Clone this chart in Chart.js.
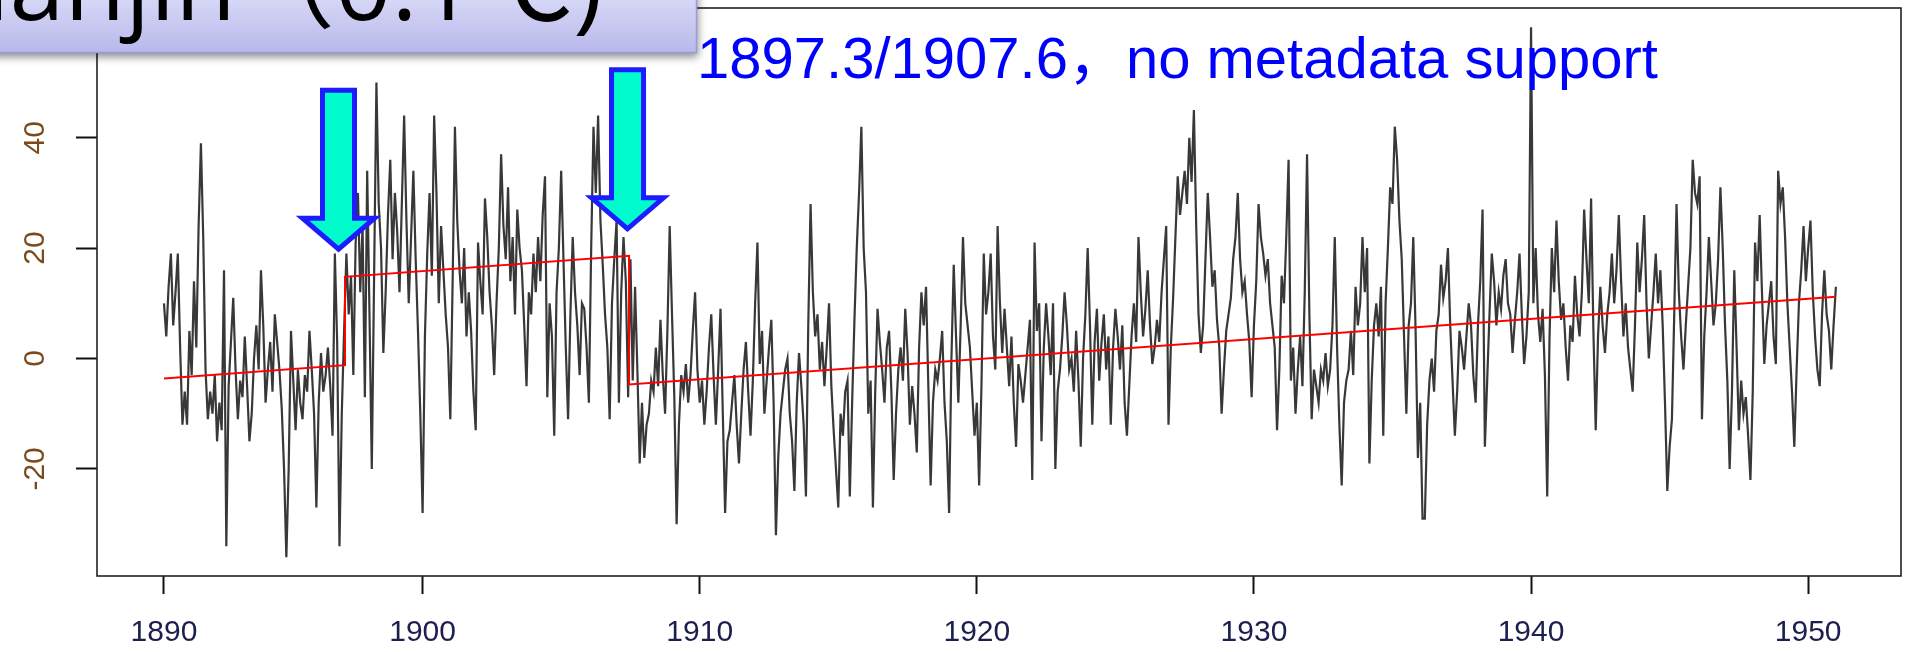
<!DOCTYPE html>
<html>
<head>
<meta charset="utf-8">
<script src="https://cdn.jsdelivr.net/npm/chart.js@4.4.1/dist/chart.umd.min.js"></script>
<style>
  html, body { margin: 0; padding: 0; background: #fff; }
  #wrap { width: 1905px; height: 652px; }
</style>
</head>
<body>
<div id="wrap"><canvas id="chart" width="1905" height="652"></canvas></div>
<script>
// monthly series, first value = Sep 1890 (0.1 C units), one row per 12 months
const startYear = 1890 + 8 / 12;
const monthlyValues = [
  10, 4, 13, 19, 6, 12, 19, 2, -12, -6, -12, 5,
  -3, 14, 2, 24, 39, 22, -2, -11, -6, -10, -3, -15,
  -8, -13, 16, -34, -5, 3, 11, -2, -11, -4, -7, 4,
  -5, -15, -10, 0, 6, -2, 16, 6, -8, -2, 3, -6,
  8, 3, -2, -9, -20, -36, -20, 5, -4, -13, -2, -8,
  -11, -3, -6, 5, -2, -10, -27, -8, 1, -6, -3, 2,
  -5, -14, 19, 3, -34, -10, 5, 19, 8, 15, -3, 21,
  30, 12, 24, -7, 34, 8, -20, 15, 50, 28, 20, 1,
  12, 26, 36, 18, 30, 23, 12, 28, 44, 25, 10, 22,
  34, 18, 5, -10, -28, 4, 19, 30, 15, 44, 30, 10,
  24, 16, 8, 2, -11, 14, 42, 25, 16, 10, 20, 4,
  12, 5, -6, -13, 21, 14, 8, 29, 22, 12, 6, -3,
  10, 20, 37, 24, 18, 31, 14, 22, 8, 27, 20, 16,
  6, -5, 12, 8, 19, 12, 22, 14, 26, 33, -7, 10,
  4, -14, 12, 20, 34, 18, 2, -11, 8, 22, 12, 6,
  -3, 10, 9, 2, -8, 20, 42, 30, 44, 25, 17, 8,
  2, -11, 10, 18, 25, -8, 12, 22, 14, -7, 18, -4,
  13, -2, -19, -8, -18, -12, -10, -4, -6, 2, -5, 7,
  -3, -10, 5, 24, 8, -7, -30, -12, -3, -6, -1, -8,
  -3, 5, 12, -2, -8, -4, -12, -6, 2, 8, -3, -12,
  -2, 9, -10, -28, -15, -13, -8, -3, -12, -19, -10, -2,
  3, -6, -14, -4, 10, 21, -1, 5, -10, -4, 2, 7,
  -8, -32, -18, -10, -6, -2, 0, -10, -15, -24, -8, 1,
  -5, -12, -25, 6, 28, 12, 4, 8, -2, 3, -5, 2,
  10, -5, -13, -20, -27, -10, -14, -6, -4, -25, -8, 7,
  20, 30, 42, 20, 12, -10, -4, -27, -6, 9, 3, -2,
  -8, 2, 5, -6, -22, -10, -2, 2, -4, 9, 1, -12,
  -5, -10, -17, 2, 12, 6, 13, -5, -23, -8, -2, -4,
  0, 5, -8, -15, -28, 0, 17, 4, -8, 6, 22, 10,
  6, 2, -6, -14, -8, -23, -5, 19, 8, 12, 19, 4,
  -2, 24, 10, 1, 9, 2, -5, 4, -8, -16, -1, -4,
  -8, -3, 2, 7, -22, 21, 5, 10, -15, 2, 10, 4,
  -3, 10, -20, -6, -2, 4, 12, 6, -2, 0, -6, 5,
  -4, -16, 0, 8, 20, 6, -12, 3, 9, -4, 3, 8,
  -2, 4, -12, 2, 9, 4, -2, 6, -8, -14, -5, 4,
  10, 3, 22, 12, 4, 9, 16, 6, -1, 2, 7, 3,
  12, 18, 24, -12, 2, 11, 22, 33, 26, 30, 34, 28,
  40, 32, 45, 24, 8, 1, 6, 18, 30, 22, 13, 16,
  7, 2, -10, -2, 5, 8, 11, 18, 22, 30, 18, 12,
  14, 8, 3, -7, 6, 14, 28, 22, 19, 15, 18, 10,
  6, 2, -13, -2, 15, 10, 22, 36, -4, 2, -10, -2,
  4, -5, 12, 37, 8, -11, -2, -5, -8, -2, -4, 1,
  -5, -2, 6, 22, 2, -12, -23, -8, -4, -2, 5, -3,
  13, 6, 10, 22, 12, 20, -19, -4, 6, 10, 4, 13,
  -14, 10, 20, 31, 28, 42, 36, 25, 18, 4, -10, 6,
  10, 22, 5, -18, -8, -29, -29, -12, -4, 0, -6, 5,
  8, 17, 11, 14, 20, 6, -4, -14, -6, 5, 2, -2,
  4, 10, 6, -3, -8, 6, 14, 27, -16, -4, 8, 19,
  14, 6, 12, 9, 15, 18, 10, 8, 1, 7, 12, 19,
  8, -1, 4, 12, 60, 10, 20, 8, 3, 9, -3, -25,
  4, 20, 12, 25, 14, 7, 10, 2, -4, 6, 3, 15,
  8, 4, 12, 27, 18, 10, 29, 5, -13, 4, 13, 6,
  1, 8, 12, 19, 10, 16, 26, 14, 4, 10, 2, -2,
  -6, 6, 21, 12, 18, 26, 10, 0, 6, 12, 19, 10,
  16, 6, -8, -24, -16, -11, 8, 28, 12, 4, -2, 6,
  13, 20, 36, 30, 28, 33, -11, 4, 12, 22, 14, 6,
  10, 18, 31, 20, 6, -4, -20, -6, 16, 2, -13, -4,
  -10, -7, -14, -22, -6, 21, 14, 26, 12, -1, 6, 10,
  14, 4, -1, 34, 28, 31, 22, 10, 2, -6, -16, -2,
  10, 16, 24, 14, 20, 25, 12, 4, -2, -5, 8, 16,
  8, 5, -2, 6, 13
];

// fitted step trend (red), breakpoints
const trendYears = [1890.667, 1897.2, 1897.2, 1907.45, 1907.45, 1951.0];
const trendValues = [-3.6, -1.2, 14.8, 18.6, -4.7, 11.2];

const yTicks = [-20, 0, 20, 40, 60];
const xTickValues = [1890.667, 1900, 1910, 1920, 1930, 1940, 1950];
const xTickLabels = ["1890", "1900", "1910", "1920", "1930", "1940", "1950"];

// arrows mark the two breakpoints
const arrowYears = [1896.965, 1907.395];
const arrowValues = [19.8, 23.5];

const titleText = "Tianjin（0.1℃)";
const noteText = "1897.3/1907.6，no metadata support";

const seriesPoints = monthlyValues.map((v, i) => ({ x: startYear + i / 12, y: v }));
const trendPoints = trendYears.map((t, i) => ({ x: t, y: trendValues[i] }));

function drawArrow(ctx, tx, ty) {
  const shaft = 16, head = 36, headLen = 31, len = 159;
  ctx.beginPath();
  ctx.moveTo(tx, ty);
  ctx.lineTo(tx - head, ty - headLen);
  ctx.lineTo(tx - shaft, ty - headLen);
  ctx.lineTo(tx - shaft, ty - len);
  ctx.lineTo(tx + shaft, ty - len);
  ctx.lineTo(tx + shaft, ty - headLen);
  ctx.lineTo(tx + head, ty - headLen);
  ctx.closePath();
  ctx.fillStyle = "#00fccc";
  ctx.fill();
  ctx.lineJoin = "miter";
  ctx.lineWidth = 5;
  ctx.strokeStyle = "#1c1cff";
  ctx.stroke();
}

const annotations = {
  id: "annotations",
  afterDatasetsDraw(chart) {
    const { ctx, chartArea: a, scales: { x, y } } = chart;
    ctx.save();

    // plot frame
    ctx.strokeStyle = "#222";
    ctx.lineWidth = 1.6;
    ctx.strokeRect(a.left, a.top, a.right - a.left, a.bottom - a.top);

    // rotated y tick labels (R style)
    ctx.fillStyle = "#7a4a1c";
    ctx.font = '30px "Liberation Sans", Arial, sans-serif';
    ctx.textAlign = "center";
    ctx.textBaseline = "middle";
    yTicks.forEach(v => {
      ctx.save();
      ctx.translate(36, y.getPixelForValue(v));
      ctx.rotate(-Math.PI / 2);
      ctx.fillText(String(v), 0, 0);
      ctx.restore();
    });

    // arrows
    arrowYears.forEach((t, i) => {
      drawArrow(ctx, x.getPixelForValue(t), y.getPixelForValue(arrowValues[i]));
    });

    // blue note
    ctx.fillStyle = "#0000ff";
    ctx.font = '58px "Liberation Sans", Arial, "Noto Sans CJK SC", sans-serif';
    ctx.textAlign = "left";
    ctx.textBaseline = "alphabetic";
    ctx.fillText(noteText, 697, 78);

    // title banner, partly cut off at the top-left
    ctx.save();
    ctx.shadowColor = "rgba(0,0,0,0.45)";
    ctx.shadowBlur = 8;
    ctx.shadowOffsetY = 4;
    ctx.shadowOffsetX = 1;
    const g = ctx.createLinearGradient(0, 0, 0, 53);
    g.addColorStop(0, "#d6d6f6");
    g.addColorStop(1, "#b8b8ec");
    ctx.fillStyle = g;
    ctx.fillRect(-10, -10, 707, 63);
    ctx.restore();
    ctx.strokeStyle = "#9a9ad8";
    ctx.lineWidth = 1.5;
    ctx.beginPath();
    ctx.moveTo(0, 52.5);
    ctx.lineTo(696.5, 52.5);
    ctx.lineTo(696.5, 0);
    ctx.stroke();

    ctx.fillStyle = "#000";
    ctx.font = '99px "Open Sans", "Noto Sans CJK SC", sans-serif';
    const w = ctx.measureText("Tianjin").width;
    ctx.fillText(titleText, 236 - w, 20);

    ctx.restore();
  }
};

new Chart(document.getElementById("chart"), {
  type: "line",
  data: {
    datasets: [
      {
        data: trendPoints,
        borderColor: "#ff0000",
        borderWidth: 2,
        pointRadius: 0,
        tension: 0
      },
      {
        data: seriesPoints,
        borderColor: "rgba(0,0,0,0.78)",
        borderWidth: 2.2,
        pointRadius: 0,
        tension: 0
      }
    ]
  },
  options: {
    responsive: false,
    animation: false,
    devicePixelRatio: 1,
    layout: { padding: { left: 0, right: 4, top: 8, bottom: 0 } },
    plugins: {
      legend: { display: false },
      tooltip: { enabled: false }
    },
    scales: {
      x: {
        type: "linear",
        min: 1888.25,
        max: 1953.35,
        afterBuildTicks: (scale) => { scale.ticks = xTickValues.map(v => ({ value: v })); },
        afterFit: (scale) => { scale.height = 76; },
        border: { display: false },
        grid: { drawOnChartArea: false, tickLength: 18, tickColor: "#111", tickWidth: 2 },
        ticks: {
          autoSkip: false,
          maxRotation: 0,
          padding: 21,
          color: "#1a1f4d",
          font: { family: '"Liberation Sans", Arial, sans-serif', size: 30 },
          callback: (value, index) => xTickLabels[index]
        }
      },
      y: {
        type: "linear",
        min: -39.4,
        max: 63.5,
        afterBuildTicks: (scale) => { scale.ticks = yTicks.map(v => ({ value: v })); },
        afterFit: (scale) => { scale.width = 97; },
        border: { display: false },
        grid: { drawOnChartArea: false, tickLength: 21, tickColor: "#111", tickWidth: 2 },
        ticks: { display: false }
      }
    }
  },
  plugins: [annotations]
});
</script>
</body>
</html>
